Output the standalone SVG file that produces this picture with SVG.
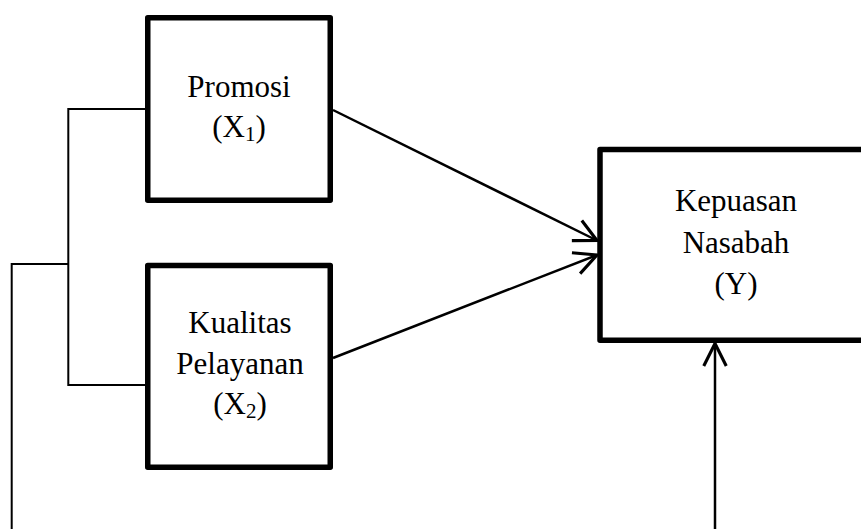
<svg xmlns="http://www.w3.org/2000/svg" width="861" height="529" viewBox="0 0 861 529">
<defs>
<style>
.box{fill:#fff;stroke:#000;stroke-width:5.5;stroke-linejoin:round}
.lbl{font-family:"Liberation Serif","Times New Roman",serif;font-size:31px;fill:#000;text-anchor:middle}
.thin{fill:none;stroke:#000;stroke-width:2}
.arr{fill:none;stroke:#000;stroke-width:2.5;marker-end:url(#ah)}
</style>
<marker id="ah" markerUnits="userSpaceOnUse" markerWidth="30" markerHeight="30" viewBox="-20 -12 24 24" refX="0" refY="0" orient="auto">
<path d="M-18,-9 L0,0 L-18,9" fill="none" stroke="#000" stroke-width="2.5"/>
</marker>
</defs>
<g id="connectors">
<polyline class="thin" points="146,109 68.3,109 68.3,385 146,385"/>
<polyline class="thin" points="68.3,264 11.7,264 11.7,529"/>
<line class="arr" x1="333" y1="110" x2="597" y2="240.5"/>
<line class="arr" x1="333" y1="358" x2="597" y2="255"/>
<line class="arr" x1="715" y1="529" x2="715" y2="343.5"/>
</g>
<g id="promosi">
<rect class="box" x="147.75" y="17.75" width="182.5" height="182.5"/>
<text class="lbl" x="239" y="97">Promosi</text>
<text class="lbl" x="239" y="137">(X<tspan font-size="21" dy="4">1</tspan><tspan dy="-4">)</tspan></text>
</g>
<g id="kualitas">
<rect class="box" x="147.75" y="265.5" width="182.5" height="201.7"/>
<text class="lbl" x="240" y="333">Kualitas</text>
<text class="lbl" x="240" y="373.5">Pelayanan</text>
<text class="lbl" x="240" y="414">(X<tspan font-size="21" dy="4">2</tspan><tspan dy="-4">)</tspan></text>
</g>
<g id="kepuasan">
<rect class="box" x="600" y="149.5" width="290" height="190.8"/>
<text class="lbl" x="736" y="211">Kepuasan</text>
<text class="lbl" x="736" y="252.5">Nasabah</text>
<text class="lbl" x="736" y="293.5">(Y)</text>
</g>
</svg>
